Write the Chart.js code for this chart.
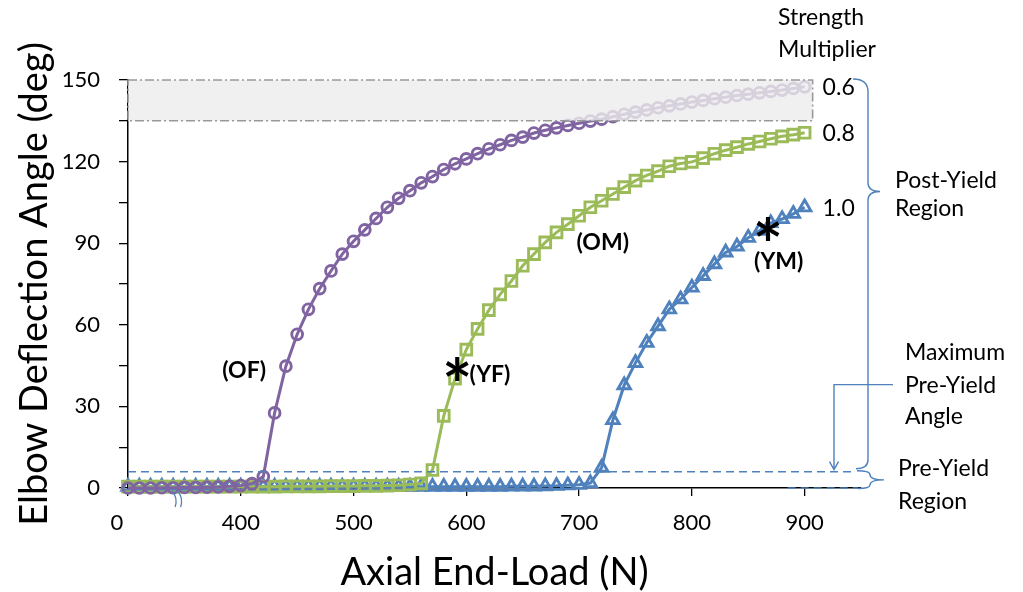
<!DOCTYPE html>
<html><head><meta charset="utf-8">
<script src="https://cdn.jsdelivr.net/npm/chart.js@4.4.1/dist/chart.umd.min.js"></script>
<style>html,body{margin:0;padding:0;background:#fff;}#wrap{width:1023px;height:592px;}</style>
</head><body><div id="wrap"><canvas id="c" width="1023" height="592"></canvas></div>
<script>
// ---- data ----
const loads = [300,310,320,330,340,350,360,370,380,390,400,410,420,430,440,450,460,470,480,490,500,510,520,530,540,550,560,570,580,590,600,610,620,630,640,650,660,670,680,690,700,710,720,730,740,750,760,770,780,790,800,810,820,830,840,850,860,870,880,890,900];
const angle06 = [0,0,0,0.1,0.1,0.2,0.2,0.3,0.4,0.6,0.9,1.6,4.2,27.6,44.8,56.5,65.7,73.3,79.8,86.0,90.7,94.9,99.1,103.2,106.5,109.3,112.2,114.5,117.1,119.2,121.0,122.9,124.7,126.2,127.8,129.0,130.5,131.5,132.4,133.3,134.1,134.9,135.6,136.5,137.4,138.2,139.0,139.8,140.5,141.2,141.9,142.5,143.1,143.7,144.3,144.8,145.3,145.8,146.3,146.9,147.5];
const angle08 = [0.5,0.5,0.5,0.5,0.5,0.5,0.5,0.5,0.5,0.5,0.5,0.5,0.5,0.5,0.6,0.6,0.6,0.6,0.7,0.7,0.7,0.8,0.8,0.9,1.0,1.3,1.7,6.6,26.5,40.2,50.9,58.5,65.4,71.2,76.1,81.7,86.0,90.3,94.0,97.0,100.1,103.2,105.6,108.1,110.6,113.0,114.9,116.5,118.3,119.3,119.9,121.3,122.9,124.2,125.3,126.5,127.4,128.4,129.3,129.9,130.6];
const angle10 = [0.5,0.5,0.5,0.5,0.5,0.5,0.5,0.5,0.5,0.5,0.5,0.5,0.5,0.5,0.5,0.5,0.5,0.5,0.5,0.5,0.5,0.5,0.5,0.5,0.5,0.5,0.5,0.5,0.5,0.5,0.5,0.5,0.5,0.5,0.6,0.6,0.6,0.7,0.8,1.0,1.2,1.8,7.5,25.0,37.8,46.0,53.4,59.5,65.7,69.4,73.7,78.0,82.3,86.6,88.8,92.0,94.6,97.4,98.9,100.8,103.2];
const multipliers = ['0.6','0.8','1.0'];
const xTickValues = [300,400,500,600,700,800,900];
const xTickLabels = ['0','400','500','600','700','800','900'];
const yTickValues = [0,15,30,45,60,75,90,105,120,135,150];
const yTickLabels = ['0','','30','','60','','90','','120','','150'];
const maxPreYieldAngle = 6;
const implausibleBand = [135,150];
const pointLabels = [
  {t:'(OF)', x:403, y:43.1},
  {t:'(YF)', x:621, y:41.6},
  {t:'(OM)', x:721, y:90.1},
  {t:'(YM)', x:877, y:83.1}
];
const yieldStars = [{x:592, y:43.8},{x:867.5, y:95.0}];

const FONT = 'Lato';
const BLUE = '#4F81BD', GREEN = '#9BBB59', PURPLE = '#8064A2';

function pts(vals){ return loads.map((l,i)=>({x:l, y:vals[i]})); }

const annot = {
  id:'annot',
  afterDatasetsDraw(chart){
    const {ctx, chartArea:ca, scales:{x,y}} = chart;
    ctx.save();
    const bl = ca.left, br = x.getPixelForValue(loads[loads.length-1]) + 8;
    const bt = y.getPixelForValue(implausibleBand[1]), bb = y.getPixelForValue(implausibleBand[0]);
    ctx.fillStyle = 'rgba(236,236,236,0.8)';
    ctx.fillRect(bl, bt, br-bl, bb-bt);
    ctx.strokeStyle = '#999999'; ctx.lineWidth = 1.6; ctx.setLineDash([9,3,2,3]);
    ctx.strokeRect(bl, bt, br-bl, bb-bt);
    ctx.setLineDash([]);
    const yp = y.getPixelForValue(maxPreYieldAngle);
    ctx.strokeStyle = BLUE; ctx.lineWidth = 1.6; ctx.setLineDash([8,5]);
    ctx.beginPath(); ctx.moveTo(ca.left, yp); ctx.lineTo(ca.right-5, yp); ctx.stroke();
    const y0 = y.getPixelForValue(0);
    ctx.beginPath(); ctx.moveTo(x.getPixelForValue(885), y0); ctx.lineTo(ca.right-3, y0); ctx.stroke();
    ctx.setLineDash([]);
    ctx.restore();
  },
  afterDraw(chart){
    const {ctx, chartArea:ca, scales:{x,y}} = chart;
    ctx.save();
    const yTop = y.getPixelForValue(150), yp = y.getPixelForValue(maxPreYieldAngle), y0 = y.getPixelForValue(0);
    const R = ca.right;
    ctx.strokeStyle = BLUE; ctx.lineWidth = 1.4;
    const bx = R + 7, tipY = y.getPixelForValue(109);
    ctx.beginPath();
    ctx.moveTo(R - 8, yTop - 1);
    ctx.quadraticCurveTo(bx, yTop - 1, bx, yTop + 12);
    ctx.lineTo(bx, tipY - 9);
    ctx.quadraticCurveTo(bx, tipY, bx + 12, tipY);
    ctx.quadraticCurveTo(bx, tipY, bx, tipY + 9);
    ctx.lineTo(bx, yp - 12);
    ctx.quadraticCurveTo(bx, yp - 3, R - 5, yp - 3);
    ctx.stroke();
    const mid = (yp + y0) / 2, px = R + 9;
    ctx.beginPath();
    ctx.moveTo(R - 4, yp - 1);
    ctx.quadraticCurveTo(px, yp - 1, px, yp + 3);
    ctx.quadraticCurveTo(px, mid, px + 14, mid);
    ctx.quadraticCurveTo(px, mid, px, y0 - 3);
    ctx.quadraticCurveTo(px, y0 + 0.5, R - 3, y0 + 0.5);
    ctx.stroke();
    const ax = R - 27, ay = y.getPixelForValue(38);
    ctx.beginPath();
    ctx.moveTo(R + 32, ay); ctx.lineTo(ax, ay); ctx.lineTo(ax, yp - 2);
    ctx.moveTo(ax - 4.5, yp - 10); ctx.lineTo(ax, yp - 2); ctx.lineTo(ax + 4.5, yp - 10);
    ctx.stroke();
    const bkx = x.getPixelForValue(340);
    ctx.lineWidth = 1.3;
    [0, 5.5].forEach(d => {
      ctx.beginPath();
      ctx.moveTo(bkx + d - 1, y0 + 3);
      ctx.quadraticCurveTo(bkx + d + 5, y0 + 10, bkx + d + 2, y0 + 19);
      ctx.stroke();
    });
    ctx.fillStyle = '#000';
    ctx.textAlign = 'left'; ctx.textBaseline = 'alphabetic';
    ctx.font = '23px ' + FONT;
    ctx.fillText('Strength', R - 83, 25);
    ctx.fillText('Multiplier', R - 83, 57);
    const ends = [angle06, angle08, angle10];
    const lx = x.getPixelForValue(loads[loads.length-1]) + 18;
    ctx.textBaseline = 'middle';
    ends.forEach((arr, i) => ctx.fillText(multipliers[i], lx, y.getPixelForValue(arr[arr.length-1]) + 1));
    ctx.textBaseline = 'alphabetic';
    ctx.fillText('Post-Yield', R + 34, 188);
    ctx.fillText('Region', R + 34, 216);
    ctx.fillText('Maximum', R + 44, 360);
    ctx.fillText('Pre-Yield', R + 44, 393);
    ctx.fillText('Angle', R + 44, 424);
    ctx.fillText('Pre-Yield', R + 37, 476);
    ctx.fillText('Region', R + 37, 509);
    ctx.font = 'bold 23px ' + FONT;
    ctx.textAlign = 'center'; ctx.textBaseline = 'middle';
    pointLabels.forEach(p => ctx.fillText(p.t, x.getPixelForValue(p.x), y.getPixelForValue(p.y)));
    ctx.font = 'bold 100px ' + FONT;
    const m = ctx.measureText('*');
    const h = m.actualBoundingBoxAscent + m.actualBoundingBoxDescent;
    const fs = 100 * 24 / h;
    ctx.font = 'bold ' + fs + 'px ' + FONT;
    const m2 = ctx.measureText('*');
    ctx.textBaseline = 'alphabetic';
    yieldStars.forEach(s => {
      const cy = y.getPixelForValue(s.y);
      ctx.fillText('*', x.getPixelForValue(s.x), cy + 22 - (m2.actualBoundingBoxDescent - m2.actualBoundingBoxAscent) / 2);
    });
    ctx.restore();
  }
};

const ds = (label, vals, color, style, r) => ({
  label, data: pts(vals), borderColor: color, borderWidth: 3,
  pointStyle: style, pointRadius: r, pointHoverRadius: r, pointBorderWidth: 2.9,
  pointBorderColor: color, pointBackgroundColor: 'rgba(0,0,0,0)', tension: 0, clip: false
});

new Chart(document.getElementById('c'), {
  type: 'line',
  data: { datasets: [
    ds(multipliers[0], angle06, PURPLE, 'circle', 5.4),
    ds(multipliers[1], angle08, GREEN, 'rect', 7.6),
    ds(multipliers[2], angle10, BLUE, 'triangle', 7.2)
  ]},
  options: {
    responsive: false, animation: false, devicePixelRatio: 1,
    layout: { padding: { left: 0, top: 80, right: 162, bottom: 0 } },
    plugins: { legend: { display: false }, tooltip: { enabled: false } },
    scales: {
      x: {
        type: 'linear', min: 300, max: 950,
        afterFit: s => { s.height = 104; },
        afterBuildTicks: s => { s.ticks = xTickValues.map(v => ({ value: v })); },
        ticks: { autoSkip: false, maxRotation: 0, padding: 14, color: '#000',
          font: { family: FONT, size: 22 },
          callback: (v, i) => i === 0 ? xTickLabels[i] + '\u2002\u2002' : xTickLabels[i] },
        grid: { drawOnChartArea: false, drawTicks: true, tickLength: 8, color: '#000', lineWidth: 1.3 },
        border: { display: true, color: '#000', width: 1.5 },
        title: { display: true, text: 'Axial End-Load (N)', color: '#000',
          font: { family: FONT, size: 38, lineHeight: 1 }, padding: { top: 0, bottom: 0 } }
      },
      y: {
        min: 0, max: 150,
        afterFit: s => { s.width = 128; },
        afterBuildTicks: s => { s.ticks = yTickValues.map(v => ({ value: v })); },
        ticks: { autoSkip: false, padding: 19, color: '#000',
          font: { family: FONT, size: 22 },
          callback: (v, i) => yTickLabels[i] },
        grid: { drawOnChartArea: false, drawTicks: true, tickLength: 9, color: '#000', lineWidth: 1.3 },
        border: { display: true, color: '#000', width: 1.5 },
        title: { display: true, text: 'Elbow Deflection Angle (deg)', color: '#000',
          font: { family: FONT, size: 38, lineHeight: 1 }, padding: { top: 16, bottom: 0 } }
      }
    }
  },
  plugins: [annot]
});
</script></body></html>
